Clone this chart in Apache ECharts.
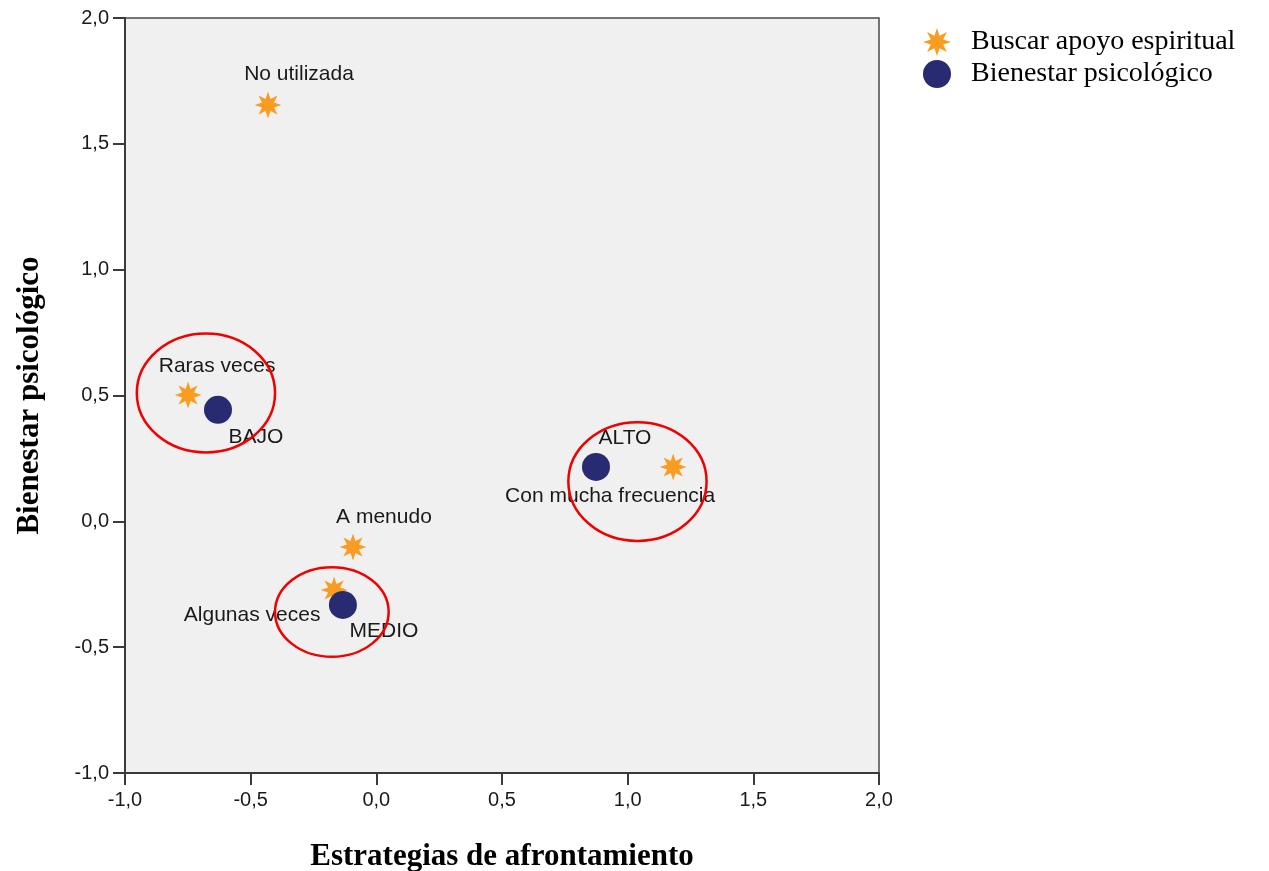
<!DOCTYPE html>
<html>
<head>
<meta charset="utf-8">
<script src="https://cdn.jsdelivr.net/npm/echarts@6/dist/echarts.min.js"></script>
<style>
  html, body { margin: 0; padding: 0; background: #fff; }
  #chart { width: 1269px; height: 871px; }
</style>
</head>
<body>
<div id="chart"></div>
<script>
// Category points: Buscar apoyo espiritual (frequency of use)
const espiritualNames = ['No utilizada', 'Raras veces', 'Algunas veces', 'A menudo', 'Con mucha frecuencia'];
const espiritualX = [-0.431, -0.749, -0.168, -0.093, 1.181];
const espiritualY = [1.654, 0.502, -0.273, -0.102, 0.216];

// Category points: Bienestar psicológico (level)
const bienestarNames = ['BAJO', 'MEDIO', 'ALTO'];
const bienestarX = [-0.630, -0.133, 0.874];
const bienestarY = [0.443, -0.332, 0.216];

// Highlight ellipses: centre x, centre y, radius x, radius y (data units)
const ellipseCx = [-0.678, -0.177, 1.039];
const ellipseCy = [0.510, -0.360, 0.158];
const ellipseRx = [0.275, 0.226, 0.275];
const ellipseRy = [0.236, 0.178, 0.236];

const axisTicks = [-1.0, -0.5, 0.0, 0.5, 1.0, 1.5, 2.0];

// Label offsets (px) for each point label
const espiritualOffsets = [[31, -31], [29, -29], [-82, 25], [31, -30], [-63, 29]];
const bienestarOffsets = [[38, 27], [41, 26], [29, -29]];

// 8-point star symbol
function starPath() {
  const pts = [];
  for (let i = 0; i < 16; i++) {
    const r = i % 2 === 0 ? 50 : 24;
    const a = -Math.PI / 2 + i * Math.PI / 8;
    pts.push((50 + r * Math.cos(a)).toFixed(2) + ' ' + (50 + r * Math.sin(a)).toFixed(2));
  }
  return 'path://M' + pts.join(' L') + ' Z';
}
const STAR = starPath();

const fmt = v => v.toFixed(1).replace('.', ',');
const sansFont = 'Liberation Sans, Arial, sans-serif';
const serifFont = 'Liberation Serif, Times New Roman, serif';
const tickFont = { fontFamily: sansFont, fontSize: 20, color: '#1a1a1a' };

const chart = echarts.init(document.getElementById('chart'));

const espData = espiritualNames.map((n, i) => ({
  name: n,
  value: [espiritualX[i], espiritualY[i]],
  label: { offset: espiritualOffsets[i] }
}));
const bieData = bienestarNames.map((n, i) => ({
  name: n,
  value: [bienestarX[i], bienestarY[i]],
  label: { offset: bienestarOffsets[i] }
}));
const ellData = ellipseCx.map((c, i) => [c, ellipseCy[i], ellipseRx[i], ellipseRy[i]]);

const pointLabel = {
  show: true,
  position: 'inside',
  align: 'center',
  verticalAlign: 'middle',
  fontFamily: sansFont,
  fontSize: 21,
  color: '#1a1a1a',
  formatter: p => p.name
};

const axisTitle = { fontFamily: serifFont, fontSize: 31, fontWeight: 'bold', color: '#000' };

chart.setOption({
  animation: false,
  backgroundColor: '#ffffff',
  grid: {
    left: 125, right: 390, top: 18, bottom: 98,
    containLabel: false,
    outerBoundsMode: 'none',
    show: true,
    backgroundColor: '#F0F0F0',
    borderColor: '#4a4a4a',
    borderWidth: 1.5
  },
  legend: {
    orient: 'vertical',
    left: 918,
    top: 23,
    itemWidth: 28,
    itemHeight: 28,
    itemGap: 4,
    data: [
      { name: 'Buscar apoyo espiritual', icon: STAR },
      { name: 'Bienestar psicológico', icon: 'circle' }
    ],
    textStyle: { fontFamily: serifFont, fontSize: 28, lineHeight: 28, color: '#000', padding: [0, 0, 0, 15] }
  },
  xAxis: {
    type: 'value',
    min: -1, max: 2, interval: 0.5,
    name: 'Estrategias de afrontamiento',
    nameLocation: 'middle',
    nameGap: 68,
    nameTextStyle: axisTitle,
    axisLine: { show: true, onZero: false, lineStyle: { color: '#3a3a3a', width: 2 } },
    axisTick: { show: true, inside: false, length: 12, lineStyle: { color: '#3a3a3a', width: 2 } },
    axisLabel: Object.assign({ margin: 17, formatter: fmt }, tickFont),
    splitLine: { show: false }
  },
  yAxis: {
    type: 'value',
    min: -1, max: 2, interval: 0.5,
    name: 'Bienestar psicológico',
    nameLocation: 'middle',
    nameGap: 80,
    nameTextStyle: axisTitle,
    axisLine: { show: true, onZero: false, lineStyle: { color: '#3a3a3a', width: 2 } },
    axisTick: { show: true, inside: false, length: 12, lineStyle: { color: '#3a3a3a', width: 2 } },
    axisLabel: Object.assign({ margin: 16, formatter: fmt }, tickFont),
    splitLine: { show: false }
  },
  series: [
    {
      name: 'Buscar apoyo espiritual',
      type: 'scatter',
      symbol: STAR,
      symbolSize: 27,
      itemStyle: { color: '#F99D22', opacity: 1 },
      label: pointLabel,
      z: 3,
      data: espData
    },
    {
      name: 'Bienestar psicológico',
      type: 'scatter',
      symbol: 'circle',
      symbolSize: 28,
      itemStyle: { color: '#282A72', opacity: 1 },
      label: pointLabel,
      z: 4,
      data: bieData
    },
    {
      name: 'elipses',
      type: 'custom',
      silent: true,
      z: 5,
      renderItem: (params, api) => {
        const c = api.coord([api.value(0), api.value(1)]);
        const e = api.coord([api.value(0) + api.value(2), api.value(1) + api.value(3)]);
        return {
          type: 'ellipse',
          shape: { cx: c[0], cy: c[1], rx: Math.abs(e[0] - c[0]), ry: Math.abs(c[1] - e[1]) },
          style: { fill: 'none', stroke: '#F00000', lineWidth: 2.5 }
        };
      },
      encode: { x: 0, y: 1 },
      data: ellData
    }
  ]
});
</script>
</body>
</html>
